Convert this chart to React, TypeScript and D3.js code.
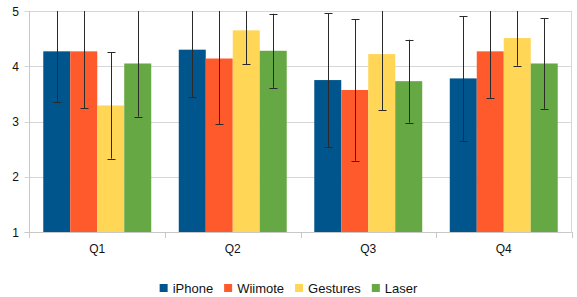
import React, { useEffect, useRef } from 'react';
import * as d3 from 'd3';

const categories = ['Q1', 'Q2', 'Q3', 'Q4'];
const seriesNames = ['iPhone', 'Wiimote', 'Gestures', 'Laser'];
const colors = ['#00568c', '#ff5a2b', '#ffd655', '#66a843'];

// mean values per series, in category order
const iphone = [4.27, 4.3, 3.75, 3.78];
const wiimote = [4.27, 4.14, 3.57, 4.27];
const gestures = [3.29, 4.65, 4.22, 4.51];
const laser = [4.05, 4.28, 3.73, 4.05];

// error bar half-widths (std dev)
const iphoneErr = [0.92, 0.86, 1.21, 1.13];
const wiimoteErr = [1.03, 1.19, 1.28, 0.85];
const gesturesErr = [0.96, 0.61, 1.02, 0.5];
const laserErr = [0.96, 0.67, 0.75, 0.82];

const yTicks = [1, 2, 3, 4, 5];

const W = 577;
const H = 297;

const App: React.FC = () => {
  const container = useRef<HTMLDivElement>(null);

  useEffect(() => {
    document.body.style.margin = '0';
    const root = d3.select(container.current);
    root.selectAll('*').remove();

    const svg = root.append('svg')
      .attr('width', W)
      .attr('height', H)
      .style('font-family', '"Liberation Sans", Arial, sans-serif')
      .style('display', 'block');

    const left = 29.5, right = 571.5, top = 11, bottom = 232;

    const x0 = d3.scaleBand().domain(categories).range([left, right]).paddingInner(0).paddingOuter(0);
    const x1 = d3.scaleBand().domain(seriesNames).range([0, x0.bandwidth()]).paddingOuter(0.51).paddingInner(0);
    const y = d3.scaleLinear().domain([1, 5]).range([bottom, top]);

    const values = [iphone, wiimote, gestures, laser];
    const errs = [iphoneErr, wiimoteErr, gesturesErr, laserErr];

    svg.append('defs').append('clipPath').attr('id', 'plotclip')
      .append('rect').attr('x', left).attr('y', top).attr('width', right - left).attr('height', bottom - top);

    // grid lines + left tick stubs
    const grid = svg.append('g');
    yTicks.forEach((t) => {
      grid.append('line')
        .attr('x1', left - 5).attr('x2', right)
        .attr('y1', Math.round(y(t)) + 0.5).attr('y2', Math.round(y(t)) + 0.5)
        .attr('stroke', '#d6d6d6');
    });
    // right border
    grid.append('line').attr('x1', right).attr('x2', right).attr('y1', top).attr('y2', bottom + 0.5)
      .attr('stroke', '#d6d6d6');
    // left axis
    grid.append('line').attr('x1', left).attr('x2', left).attr('y1', top).attr('y2', bottom + 6)
      .attr('stroke', '#c8c8c8');
    // bottom tick stubs at band boundaries
    categories.forEach((c) => {
      const bx = (x0(c) as number) + x0.bandwidth();
      grid.append('line').attr('x1', Math.round(bx) + 0.5).attr('x2', Math.round(bx) + 0.5)
        .attr('y1', bottom).attr('y2', bottom + 6).attr('stroke', '#c8c8c8');
    });

    // y labels
    svg.append('g').selectAll('text').data(yTicks).join('text')
      .attr('x', 19).attr('y', (d) => y(d) + 4.5)
      .attr('text-anchor', 'end').attr('font-size', 12).attr('fill', '#111')
      .text((d) => d);

    // bars
    const groups = svg.append('g').selectAll('g').data(categories).join('g')
      .attr('transform', (c) => `translate(${x0(c)},0)`);

    groups.each(function (c, ci) {
      const g = d3.select(this);
      seriesNames.forEach((s, si) => {
        const v = values[si][ci];
        g.append('rect')
          .attr('x', x1(s) as number)
          .attr('y', y(v))
          .attr('width', x1.bandwidth())
          .attr('height', y(1) - y(v))
          .attr('fill', colors[si]);
      });
    });

    // error bars
    const eb = svg.append('g').attr('clip-path', 'url(#plotclip)')
      .attr('stroke', '#2a2a2a').attr('stroke-width', 1);
    categories.forEach((c, ci) => {
      seriesNames.forEach((s, si) => {
        const v = values[si][ci];
        const e = errs[si][ci];
        const cx = Math.round((x0(c) as number) + (x1(s) as number) + x1.bandwidth() / 2) + 0.5;
        const yHi = y(v + e);
        const yLo = y(v - e);
        eb.append('line').attr('x1', cx).attr('x2', cx).attr('y1', yHi).attr('y2', yLo);
        eb.append('line').attr('x1', cx - 4).attr('x2', cx + 4).attr('y1', Math.round(yLo) + 0.5).attr('y2', Math.round(yLo) + 0.5);
        eb.append('line').attr('x1', cx - 4).attr('x2', cx + 4).attr('y1', Math.round(yHi) + 0.5).attr('y2', Math.round(yHi) + 0.5);
      });
    });

    // bottom axis line on top
    svg.append('line').attr('x1', left - 5).attr('x2', right).attr('y1', bottom + 0.5).attr('y2', bottom + 0.5)
      .attr('stroke', '#c8c8c8');

    // category labels
    svg.append('g').selectAll('text').data(categories).join('text')
      .attr('x', (c) => (x0(c) as number) + x0.bandwidth() / 2)
      .attr('y', 253)
      .attr('text-anchor', 'middle').attr('font-size', 12).attr('fill', '#111')
      .text((c) => c);

    // legend
    const legend = svg.append('g');
    let cursor = 0;
    seriesNames.forEach((s, i) => {
      const g = legend.append('g');
      g.append('rect').attr('x', 0).attr('y', 284).attr('width', 8).attr('height', 8).attr('fill', colors[i]);
      const t = g.append('text').attr('x', 13).attr('y', 292.5).attr('font-size', 13).attr('fill', '#111').text(s);
      const w = 13 + (t.node() as SVGTextElement).getComputedTextLength();
      g.attr('transform', `translate(${cursor},0)`);
      cursor += w + 11;
    });
    const total = cursor - 11;
    legend.attr('transform', `translate(${W / 2 - total / 2},0)`);
  }, []);

  return <div ref={container} />;
};

export default App;
